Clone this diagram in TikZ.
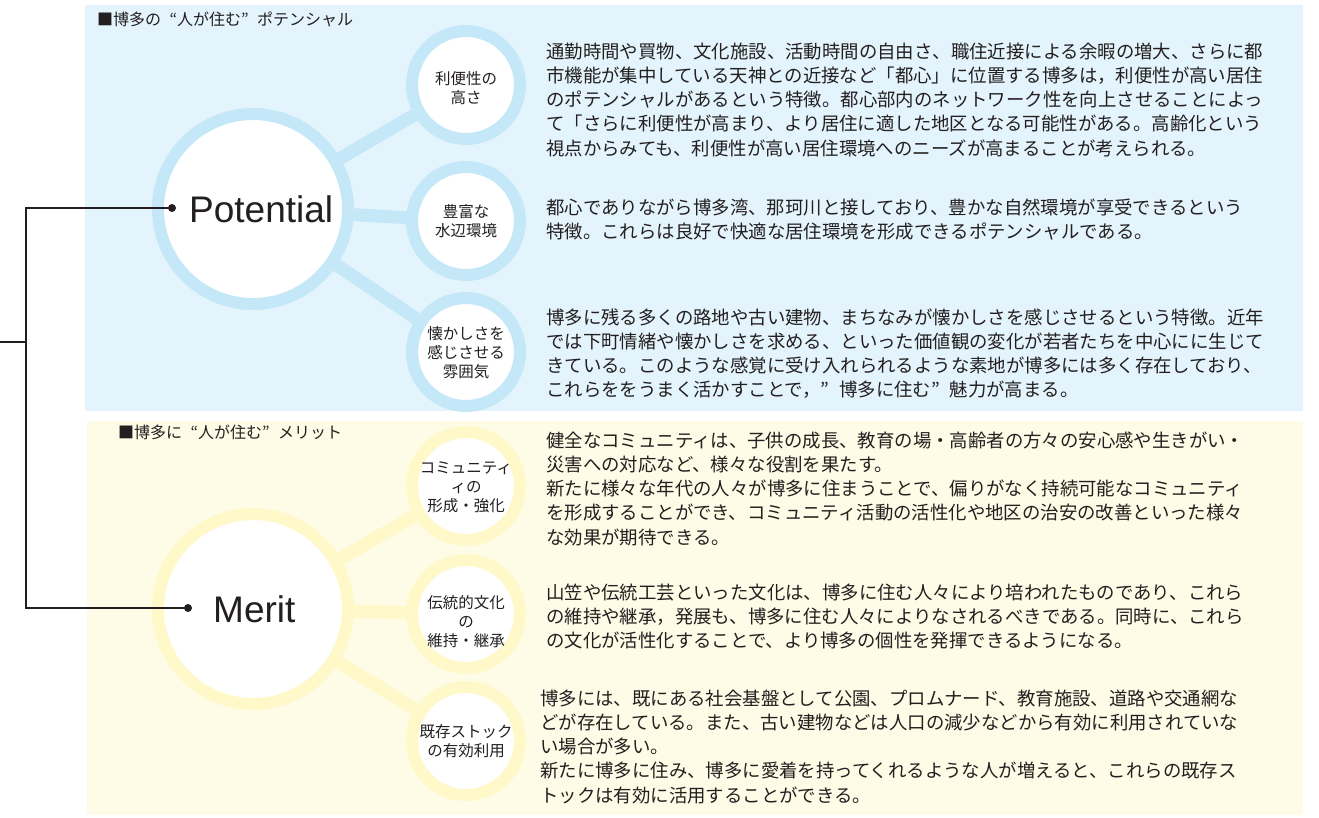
\documentclass[tikz,border=0pt]{standalone}
\usepackage{fontspec}
\newfontfamily\jp{Noto Sans CJK JP}
\newfontfamily\lib{Liberation Sans}
\definecolor{bluebg}{RGB}{228,244,252}
\definecolor{bluering}{RGB}{197,232,248}
\definecolor{yelbg}{RGB}{254,252,230}
\definecolor{yelring}{RGB}{255,248,200}
\definecolor{ink}{RGB}{35,31,32}
\newcommand{\oq}{\makebox[1em][r]{“}}
\newcommand{\cq}{\makebox[1em][l]{”}}
\pgfdeclarelayer{panel}
\pgfdeclarelayer{links}
\pgfsetlayers{panel,links,main}
\begin{document}
\begin{tikzpicture}[x=1pt,y=-1pt,
 bigring/.style={circle,draw=#1,line width=12pt,fill=white,minimum size=190pt,inner sep=0pt},
 smallring/.style={circle,draw=#1,line width=12pt,fill=white,minimum size=108pt,inner sep=0pt},
 link/.style={draw=#1,line width=13pt},
 smalltext/.style={font=\jp\fontsize{15.5}{19}\selectfont,align=center,text=ink,inner sep=0pt},
 para/.style={anchor=base west,inner sep=0pt,text=ink,font=\jp\fontsize{18.4}{24.3}\selectfont},
 heading/.style={anchor=base west,inner sep=0pt,text=ink,font=\jp\fontsize{16}{18}\selectfont},
 bigtext/.style={anchor=base west,inner sep=0pt,text=ink,font=\lib\fontsize{37}{40}\selectfont},
 dot/.style={circle,fill=ink,inner sep=0pt,minimum size=8pt},
 tree/.style={draw=ink,line width=1.6pt}]
\useasboundingbox (0,0) rectangle (1319,817);
\begin{pgfonlayer}{panel}
\fill[white] (0,0) rectangle (1319,817);
\fill[bluebg] (85,5) rectangle (1303,411);
\fill[yelbg] (87,421) rectangle (1303,815);
\end{pgfonlayer}

% Potential
\node[bigring=bluering] (P) at (253,209) {};
\node[smallring=bluering] (p1) at (466,85) {};
\node[smallring=bluering] (p2) at (466,221) {};
\node[smallring=bluering] (p3) at (466,352) {};
% Merit
\node[bigring=yelring] (M) at (253,609) {};
\node[smallring=yelring] (m1) at (466,486) {};
\node[smallring=yelring] (m2) at (466,614) {};
\node[smallring=yelring] (m3) at (466,741) {};

\begin{pgfonlayer}{links}
\path[link=bluering] (P.center) -- (p1.center);
\path[link=bluering] (P.center) -- (p2.center);
\path[link=bluering] (P.center) -- (p3.center);
\path[link=yelring] (M.center) -- (m1.center);
\path[link=yelring] (M.center) -- (m2.center);
\path[link=yelring] (M.center) -- (m3.center);
\end{pgfonlayer}

\node[bigtext] (Pt) at (189,222) {Potential};
\node[bigtext] (Mt) at (213,622) {Merit};

\node[smalltext] (p1t) at (466,88) {利便性の\\高さ};
\node[smalltext] (p2t) at (466,221) {豊富な\\水辺環境};
\node[smalltext] (p3t) at (466,353) {懐かしさを\\感じさせる\\雰囲気};
\node[smalltext] (m1t) at (466,487) {コミュニティ\\ィの\\形成・強化};
\node[smalltext] (m2t) at (466,622) {伝統的文化\\の\\維持・継承};
\node[smalltext] (m3t) at (466,741) {既存ストック\\の有効利用};

\node[heading] (ph) at (97,25.5) {■博多の\oq 人が住む\cq ポテンシャル};
\node[heading] (mh) at (118,438) {■博多に\oq 人が住む\cq メリット};

\node[para] (p1x) at (546,58) {\parbox[t]{800pt}{通勤時間や買物、文化施設、活動時間の自由さ、職住近接による余暇の増大、さらに都\\市機能が集中している天神との近接など「都心」に位置する博多は，利便性が高い居住\\のポテンシャルがあるという特徴。都心部内のネットワーク性を向上させることによっ\\て「さらに利便性が高まり、より居住に適した地区となる可能性がある。高齢化という\\視点からみても、利便性が高い居住環境へのニーズが高まることが考えられる。}};
\node[para] (p2x) at (546,214) {\parbox[t]{800pt}{都心でありながら博多湾、那珂川と接しており、豊かな自然環境が享受できるという\\特徴。これらは良好で快適な居住環境を形成できるポテンシャルである。}};
\node[para] (p3x) at (546,324) {\parbox[t]{800pt}{博多に残る多くの路地や古い建物、まちなみが懐かしさを感じさせるという特徴。近年\\では下町情緒や懐かしさを求める、といった価値観の変化が若者たちを中心にに生じて\\きている。このような感覚に受け入れられるような素地が博多には多く存在しており、\\これらををうまく活かすことで，\cq 博多に住む\cq 魅力が高まる。}};
\node[para] (m1x) at (546,447) {\parbox[t]{800pt}{健全なコミュニティは、子供の成長、教育の場・高齢者の方々の安心感や生きがい・\\災害への対応など、様々な役割を果たす。\\新たに様々な年代の人々が博多に住まうことで、偏りがなく持続可能なコミュニティ\\を形成することができ、コミュニティ活動の活性化や地区の治安の改善といった様々\\な効果が期待できる。}};
\node[para] (m2x) at (546,599) {\parbox[t]{800pt}{山笠や伝統工芸といった文化は、博多に住む人々により培われたものであり、これら\\の維持や継承，発展も、博多に住む人々によりなされるべきである。同時に、これら\\の文化が活性化することで、より博多の個性を発揮できるようになる。}};
\node[para] (m3x) at (540,705) {\parbox[t]{800pt}{博多には、既にある社会基盤として公園、プロムナード、教育施設、道路や交通網な\\どが存在している。また、古い建物などは人口の減少などから有効に利用されていな\\い場合が多い。\\新たに博多に住み、博多に愛着を持ってくれるような人が増えると、これらの既存ス\\トックは有効に活用することができる。}};

\node[dot] (pd) at (172,208) {};
\node[dot] (md) at (188,608) {};
\coordinate (root) at (0,342);
\coordinate (jn) at (26,342);
\draw[tree] (root) -- (jn);
\draw[tree] (pd.center) -- (pd.center -| jn) -- (md.center -| jn) -- (md.center);
\end{tikzpicture}
\end{document}
